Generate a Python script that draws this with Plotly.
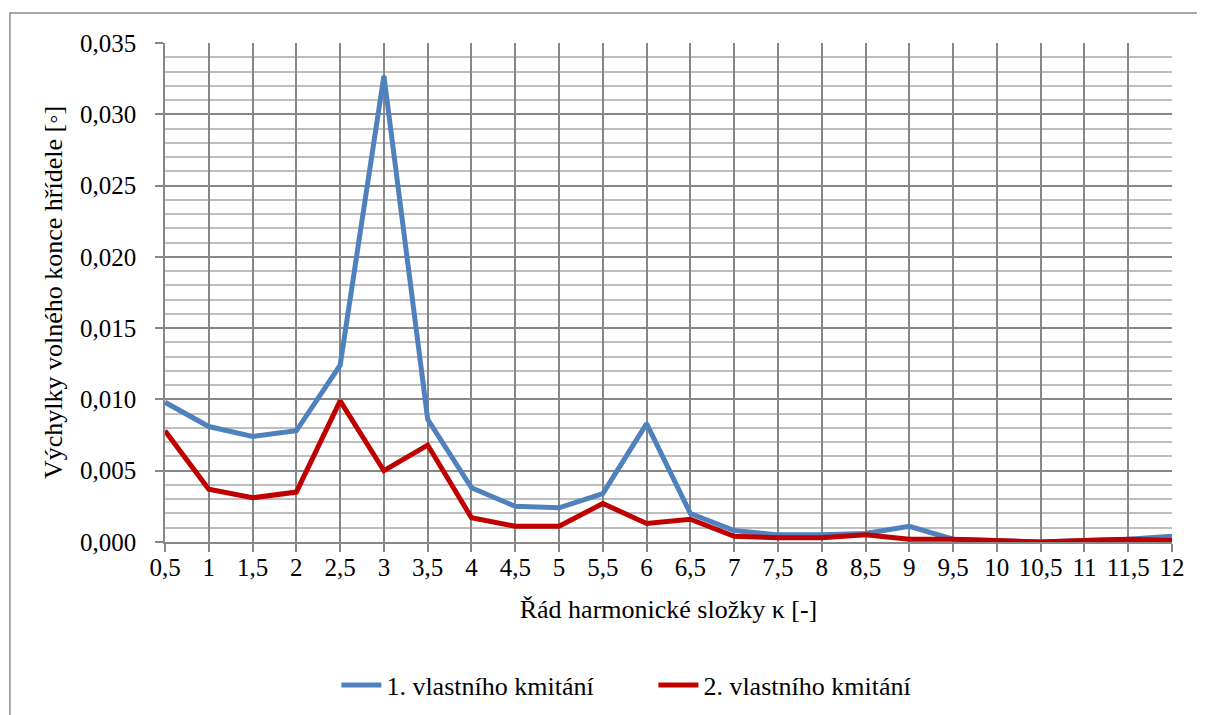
import plotly.graph_objects as go

# harmonic order kappa and tick labels (Czech decimal comma)
kappa = [0.5, 1, 1.5, 2, 2.5, 3, 3.5, 4, 4.5, 5, 5.5, 6,
         6.5, 7, 7.5, 8, 8.5, 9, 9.5, 10, 10.5, 11, 11.5, 12]
kappa_labels = ["0,5", "1", "1,5", "2", "2,5", "3", "3,5", "4", "4,5", "5", "5,5", "6",
                "6,5", "7", "7,5", "8", "8,5", "9", "9,5", "10", "10,5", "11", "11,5", "12"]

# deflections of the free shaft end [deg]
mode1 = [0.0098, 0.0081, 0.0074, 0.0078, 0.0124, 0.0327, 0.0086, 0.0038, 0.0025, 0.0024, 0.0034, 0.0083,
         0.0020, 0.0008, 0.0005, 0.0005, 0.0006, 0.0011, 0.0002, 0.0001, 0.0000, 0.0001, 0.0002, 0.0004]
mode2 = [0.0078, 0.0037, 0.0031, 0.0035, 0.0099, 0.0050, 0.0068, 0.0017, 0.0011, 0.0011, 0.0027, 0.0013,
         0.0016, 0.0004, 0.0003, 0.0003, 0.0005, 0.0002, 0.0002, 0.0001, 0.0000, 0.0001, 0.0002, 0.0001]

family = "Times New Roman, Liberation Serif, serif"
tick_font = dict(family=family, size=25, color="black")
title_font = dict(family=family, size=26, color="black")
major_grid = "#878787"
minor_grid = "#BEBEBE"

fig = go.Figure()
fig.add_trace(go.Scatter(
    x=kappa, y=mode1, mode="lines",
    line=dict(color="#4F81BD", width=5),
    name="1. vlastního kmitání"
))
fig.add_trace(go.Scatter(
    x=kappa, y=mode2, mode="lines",
    line=dict(color="#C00000", width=5),
    name="2. vlastního kmitání"
))

# page body has an 8px margin, so the figure is a bit smaller than the window
fig.update_layout(
    width=1197, height=707,
    paper_bgcolor="white", plot_bgcolor="white",
    separators=", ",
    font=tick_font,
    margin=dict(l=157, r=33, t=35, b=173, autoexpand=False),
    showlegend=True,
    legend=dict(orientation="h", x=0.485, xanchor="center", y=-0.287, yanchor="middle",
                font=title_font, itemwidth=40, entrywidth=262),
    shapes=[dict(type="rect", xref="paper", yref="paper",
                 x0=-0.154, x1=1.2, y0=-0.5, y1=1.06,
                 line=dict(color="#8C8C8C", width=1.5), fillcolor="rgba(0,0,0,0)", layer="below")],
)

fig.update_xaxes(
    range=[0.5, 12], tickvals=kappa, ticktext=kappa_labels, tickfont=tick_font,
    showgrid=True, gridcolor=major_grid, gridwidth=1.5,
    showline=True, linecolor=major_grid, linewidth=1.5,
    ticks="outside", ticklen=8, tickcolor=major_grid, tickwidth=1.5,
    ticklabelstandoff=-6,
    zeroline=False, automargin=False,
    title=dict(text="Řád harmonické složky κ [-]", font=title_font, standoff=20),
)
fig.update_yaxes(
    range=[0, 0.035], dtick=0.005, tickformat=".3f", tickfont=tick_font,
    showgrid=True, gridcolor=major_grid, gridwidth=1.5,
    minor=dict(dtick=0.001, showgrid=True, gridcolor=minor_grid, gridwidth=1.5),
    showline=True, linecolor=major_grid, linewidth=1.5,
    ticks="outside", ticklen=8, tickcolor=major_grid, tickwidth=1.5,
    ticklabelstandoff=14,
    zeroline=False, automargin=False,
    title=dict(text="Výchylky volného konce hřídele [◦]", font=title_font, standoff=10),
)

fig.write_html("out.html")
